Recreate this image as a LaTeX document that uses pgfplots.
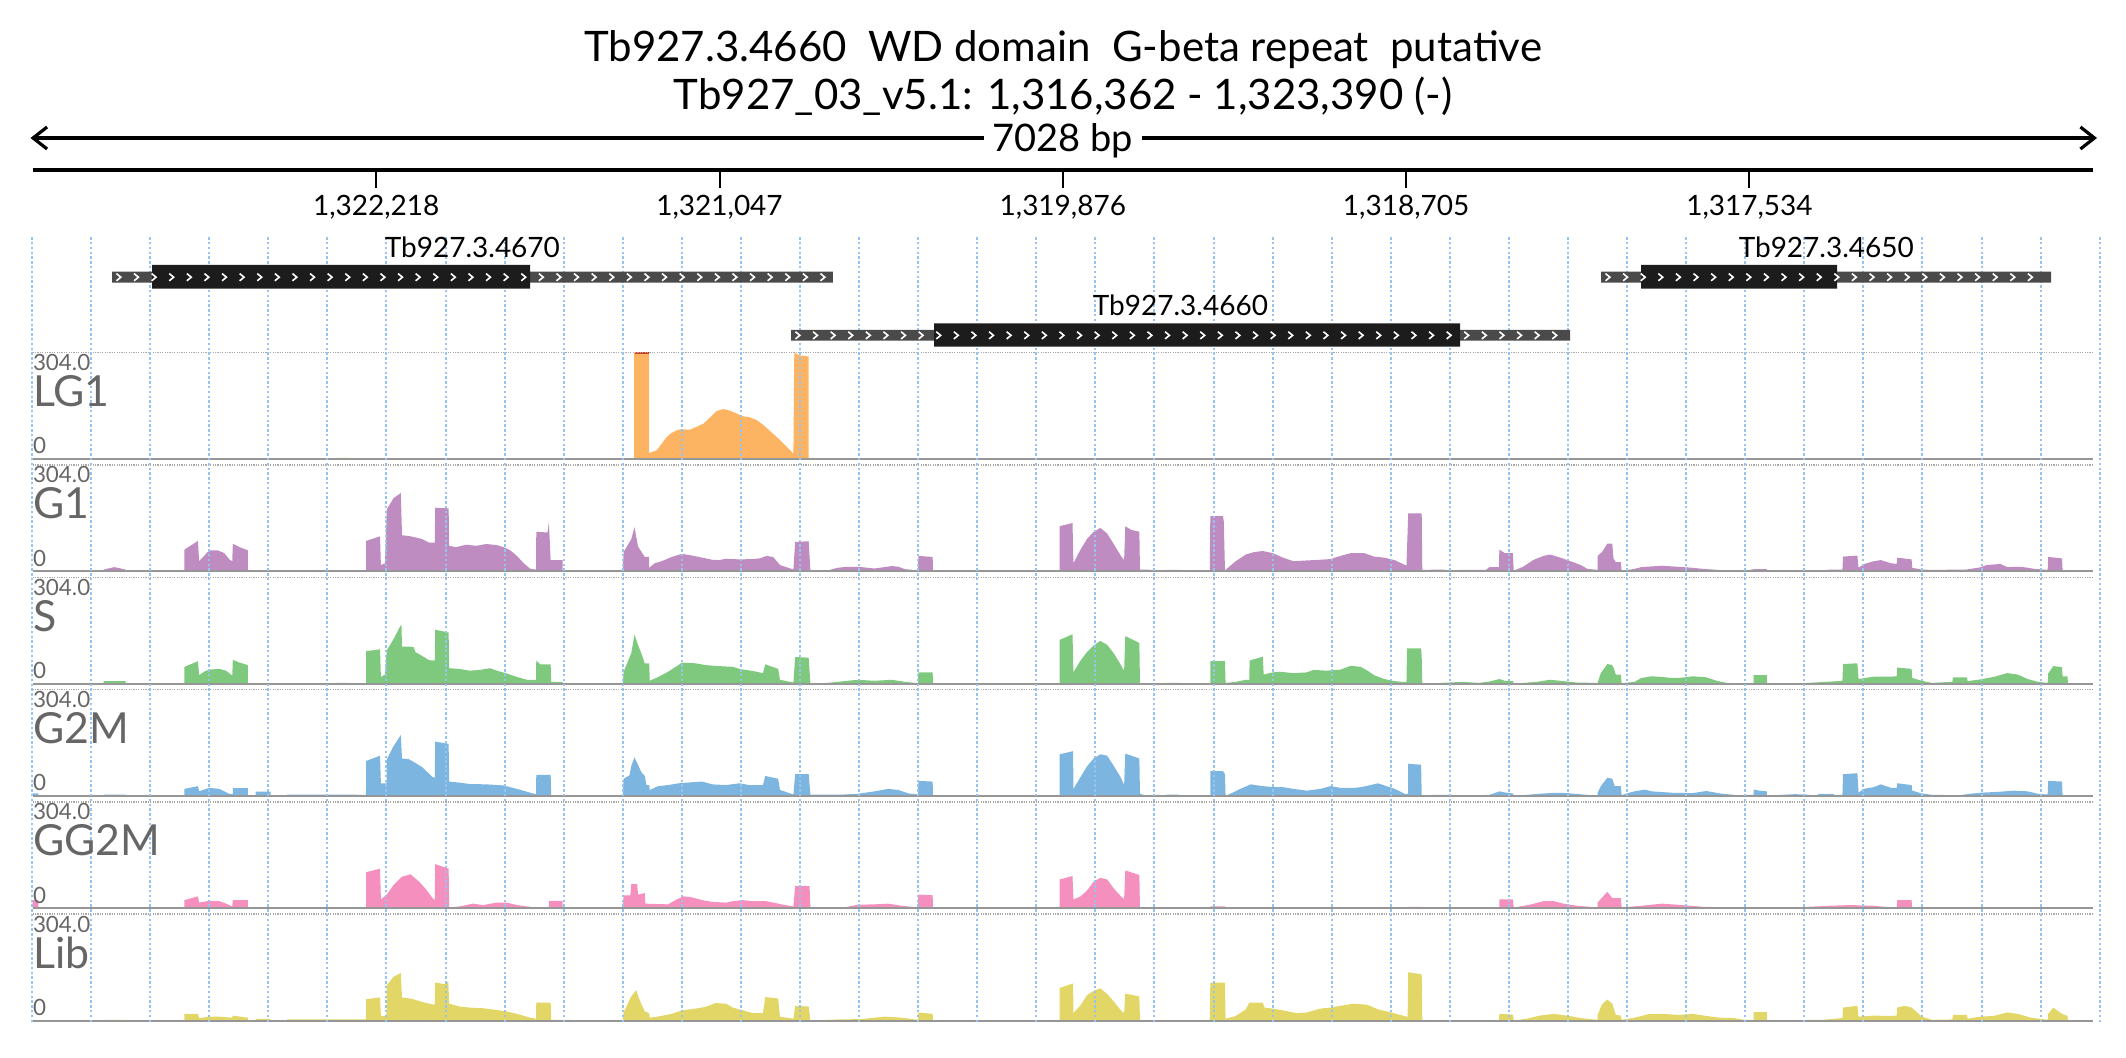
\documentclass[border=0pt]{standalone}
\usepackage{fontspec}
\setmainfont{Lato}
\usepackage{pgfplots}
\pgfplotsset{compat=1.18}
\usetikzlibrary{arrows.meta,decorations.markings}

\definecolor{cLG}{RGB}{253,180,98}
\definecolor{cG1}{RGB}{191,140,193}
\definecolor{cS}{RGB}{127,201,127}
\definecolor{cG2M}{RGB}{124,181,224}
\definecolor{cGG}{RGB}{244,143,190}
\definecolor{cLib}{RGB}{226,215,102}
\definecolor{lblgray}{RGB}{102,102,102}
\definecolor{gridblue}{RGB}{150,196,236}
\definecolor{utr}{RGB}{74,74,74}
\definecolor{cds}{RGB}{28,28,28}
\newcommand\fs[1]{\fontsize{#1}{#1}\selectfont}

\pgfplotsset{
 trackax/.style={scale only axis, width=1030.2pt, height=53.15pt, xmin=0, xmax=7028, ymin=0, ymax=304, anchor=south west, hide axis, clip=false},
 chev/.style={postaction={decorate, decoration={markings, mark=between positions 3.3pt and -3pt step 8.8pt with {\draw[white, line width=0.8pt] (-1.1pt,1.8pt) -- (1.1pt,0pt) -- (-1.1pt,-1.8pt);}}}},
}
\tikzset{
 topline/.style={draw={rgb,255:red,170;green,170;blue,170}, line width=0.8pt, dash pattern=on 0.6pt off 0.6pt},
 baseln/.style={draw={rgb,255:red,150;green,150;blue,150}, line width=1pt},
 lbls/.style={anchor=base west, inner sep=0pt, text=lblgray, font=\fs{11.2}},
 lbll/.style={anchor=base west, inner sep=0pt, text=lblgray, font=\fs{21.4}},
}

\begin{document}
\begin{tikzpicture}[x=1pt,y=1pt]
\useasboundingbox (0,0) rectangle (1063,-529);

% ---------- LG1 ----------
\begin{axis}[trackax, at={(16.3pt,-229.5pt)}]
\addplot[fill=cLG, draw=none] coordinates {(0,0)(1038,0)(1038,3)(1076,3)(1076,0)(2052,0)(2052,304)(2103,304)(2103,17)(2129,25)(2146,44)(2163,63)(2180,75)(2197,82)(2208,85)(2242,84)(2265,92)(2288,101)(2311,119)(2333,137)(2356,143)(2379,138)(2402,130)(2424,122)(2447,119)(2470,111)(2493,97)(2515,80)(2538,63)(2561,44)(2578,30)(2595,15)(2598,304)(2617,296)(2647,293)(2647,0)(7028,0)} \closedcycle;
\addplot[draw={rgb,255:red,210;green,60;blue,30}, line width=1.2pt] coordinates {(2054,302.5)(2101,302.5)};
\draw[topline] (rel axis cs:0,1) -- (rel axis cs:1,1);
\draw[baseln] (rel axis cs:0,0) -- (rel axis cs:1,0);
\end{axis}

% ---------- G1 ----------
\begin{axis}[trackax, at={(16.3pt,-285.65pt)}]
\addplot[fill=cG1, draw=none] coordinates {(0,0)(242,0)(242,5)(279,12)(317,5)(317,0)(518,0)(518,62)(564,87)(568,29)(585,44)(602,60)(631,60)(654,52)(671,34)(681,29)(683,79)(706,69)(734,60)(734,0)(1035,0)(1035,3)(1075,3)(1075,0)(1138,0)(1138,87)(1185,100)(1188,18)(1202,23)(1208,177)(1231,209)(1256,224)(1260,103)(1283,101)(1306,97)(1329,92)(1352,82)(1372,82)(1373,182)(1419,180)(1421,73)(1444,69)(1479,76)(1513,73)(1548,78)(1583,75)(1606,69)(1629,60)(1652,44)(1675,23)(1698,7)(1717,5)(1718,113)(1756,111)(1761,140)(1767,32)(1808,32)(1808,2)(1869,2)(1880,4)(1892,2)(2013,2)(2016,55)(2042,92)(2053,126)(2065,71)(2088,41)(2103,41)(2103,10)(2122,23)(2146,29)(2180,41)(2215,50)(2249,45)(2284,39)(2318,33)(2341,32)(2365,36)(2411,34)(2457,35)(2480,37)(2503,44)(2526,41)(2549,18)(2595,5)(2601,84)(2647,86)(2653,2)(2711,2)(2745,10)(2780,13)(2826,12)(2872,8)(2930,15)(2953,13)(2976,6)(3020,3)(3021,44)(3070,41)(3071,0)(3503,0)(3503,129)(3547,138)(3550,23)(3573,60)(3596,92)(3619,113)(3642,124)(3665,108)(3689,76)(3712,44)(3723,32)(3727,129)(3746,119)(3775,113)(3777,5)(3810,5)(3812,0)(3867,0)(3867,4)(3910,4)(3910,0)(4015,0)(4017,158)(4060,158)(4063,143)(4067,2)(4081,13)(4104,29)(4138,48)(4167,55)(4196,58)(4230,52)(4265,39)(4300,29)(4346,31)(4392,33)(4427,35)(4461,44)(4496,52)(4542,52)(4576,42)(4611,39)(4646,32)(4686,16)(4692,166)(4738,166)(4740,4)(4807,5)(4842,2)(4865,4)(4957,4)(4969,12)(5001,12)(5003,62)(5021,52)(5049,52)(5052,2)(5084,13)(5118,32)(5153,44)(5176,48)(5211,39)(5245,29)(5280,18)(5303,7)(5338,4)(5338,44)(5353,55)(5371,79)(5388,79)(5392,37)(5400,26)(5417,26)(5420,2)(5441,4)(5464,7)(5487,12)(5522,14)(5557,16)(5592,14)(5627,12)(5662,10)(5697,7)(5732,5)(5779,2)(5837,1)(5872,6)(5915,6)(5916,0)(6035,0)(6105,2)(6129,5)(6173,5)(6175,42)(6224,45)(6228,10)(6245,20)(6280,29)(6304,32)(6339,23)(6358,21)(6360,39)(6409,34)(6411,10)(6444,5)(6478,4)(6595,5)(6642,11)(6665,18)(6712,21)(6735,12)(6782,13)(6828,7)(6873,4)(6875,41)(6922,37)(6924,2)(6945,1)(7028,0)} \closedcycle;
\draw[topline] (rel axis cs:0,1) -- (rel axis cs:1,1);
\draw[baseln] (rel axis cs:0,0) -- (rel axis cs:1,0);
\end{axis}

% ---------- S ----------
\begin{axis}[trackax, at={(16.3pt,-341.8pt)}]
\addplot[fill=cS, draw=none] coordinates {(0,0)(242,0)(242,7)(317,7)(317,0)(518,0)(518,48)(564,64)(568,24)(585,34)(602,40)(637,42)(660,37)(681,23)(683,68)(706,60)(734,53)(734,0)(1035,0)(1035,2)(1080,2)(1080,0)(1138,0)(1138,93)(1185,98)(1188,19)(1202,26)(1208,95)(1231,127)(1254,164)(1258,169)(1260,106)(1283,106)(1300,104)(1306,90)(1329,79)(1352,67)(1372,66)(1373,154)(1419,146)(1421,44)(1456,42)(1490,37)(1525,39)(1560,44)(1583,37)(1617,29)(1652,19)(1686,11)(1717,11)(1718,66)(1732,55)(1767,55)(1769,5)(1808,5)(1808,1)(2013,1)(2016,34)(2042,87)(2053,140)(2065,111)(2076,87)(2088,58)(2103,58)(2105,8)(2134,19)(2168,34)(2203,53)(2215,60)(2261,58)(2295,53)(2341,50)(2388,48)(2411,42)(2457,36)(2491,30)(2499,55)(2543,42)(2549,11)(2595,3)(2601,76)(2647,74)(2653,0)(2711,2)(2757,6)(2814,11)(2872,8)(2930,11)(2976,5)(3020,1)(3021,32)(3070,32)(3071,0)(3503,0)(3503,125)(3547,141)(3550,32)(3573,64)(3596,90)(3619,109)(3642,122)(3665,111)(3689,85)(3712,53)(3723,37)(3727,136)(3775,116)(3777,2)(3815,0)(3867,0)(3867,2)(3910,2)(3910,0)(4017,0)(4017,64)(4067,64)(4069,2)(4104,5)(4138,11)(4150,11)(4151,66)(4196,77)(4199,26)(4230,32)(4253,34)(4300,30)(4346,32)(4369,39)(4415,37)(4461,40)(4496,51)(4530,48)(4553,37)(4576,24)(4611,13)(4646,7)(4686,4)(4688,101)(4736,101)(4738,76)(4740,0)(4807,2)(4876,5)(4934,2)(4969,6)(5003,13)(5021,8)(5049,8)(5052,0)(5130,5)(5176,11)(5211,8)(5268,3)(5338,2)(5349,30)(5371,56)(5388,53)(5394,42)(5400,26)(5417,26)(5420,1)(5464,5)(5487,16)(5522,21)(5557,19)(5592,16)(5627,17)(5662,21)(5709,18)(5744,8)(5779,2)(5837,0)(5870,0)(5870,24)(5915,24)(5916,0)(6035,1)(6117,5)(6173,8)(6175,56)(6224,58)(6228,13)(6280,20)(6339,20)(6358,21)(6360,46)(6409,42)(6411,16)(6444,8)(6478,2)(6548,5)(6550,18)(6598,18)(6600,7)(6642,12)(6689,19)(6735,30)(6770,26)(6805,13)(6840,5)(6873,2)(6875,29)(6892,50)(6922,47)(6924,21)(6941,21)(6942,0)(7028,0)} \closedcycle;
\draw[topline] (rel axis cs:0,1) -- (rel axis cs:1,1);
\draw[baseln] (rel axis cs:0,0) -- (rel axis cs:1,0);
\end{axis}

% ---------- G2M ----------
\begin{axis}[trackax, at={(16.3pt,-397.95pt)}]
\addplot[fill=cG2M, draw=none] coordinates {(0,0)(0,7)(20,7)(20,1)(242,1)(242,4)(317,4)(317,0)(518,0)(518,20)(564,28)(568,13)(602,23)(637,20)(671,6)(683,6)(683,22)(734,22)(734,0)(761,0)(761,12)(812,12)(812,1)(868,1)(868,4)(1035,4)(1137,3)(1138,100)(1185,115)(1188,36)(1207,36)(1208,105)(1231,142)(1256,174)(1260,107)(1283,105)(1306,94)(1329,82)(1364,54)(1372,52)(1373,155)(1419,149)(1421,41)(1456,38)(1490,34)(1548,33)(1606,30)(1652,20)(1698,9)(1717,5)(1718,60)(1767,60)(1769,2)(2013,2)(2016,49)(2036,59)(2042,86)(2053,110)(2065,89)(2076,68)(2088,57)(2094,31)(2103,31)(2105,17)(2134,28)(2168,31)(2203,36)(2249,39)(2284,41)(2318,33)(2365,31)(2411,36)(2445,31)(2491,31)(2499,57)(2543,49)(2549,17)(2595,4)(2601,62)(2647,62)(2653,4)(2768,4)(2814,6)(2872,13)(2918,20)(2953,17)(2988,7)(3020,4)(3021,43)(3070,41)(3071,0)(3503,0)(3503,119)(3549,128)(3550,20)(3573,52)(3596,84)(3619,107)(3642,119)(3665,115)(3689,84)(3712,52)(3723,31)(3727,121)(3775,107)(3777,6)(3804,0)(3867,0)(3867,4)(3910,4)(3910,0)(4017,0)(4017,71)(4060,71)(4067,62)(4069,0)(4092,9)(4127,23)(4155,33)(4196,28)(4230,25)(4265,25)(4300,20)(4346,15)(4392,20)(4427,28)(4461,23)(4508,23)(4530,25)(4553,29)(4588,36)(4611,30)(4646,20)(4680,6)(4692,6)(4692,92)(4736,89)(4738,0)(4773,3)(4842,3)(4876,0)(4969,3)(5003,13)(5021,10)(5049,7)(5052,0)(5153,7)(5199,9)(5234,8)(5303,3)(5338,0)(5338,9)(5349,28)(5371,52)(5388,49)(5396,28)(5417,28)(5420,2)(5441,8)(5464,13)(5499,18)(5522,13)(5592,9)(5662,8)(5709,14)(5756,7)(5802,3)(5837,0)(5849,3)(5870,3)(5870,18)(5890,15)(5915,13)(5916,0)(5965,3)(6012,5)(6059,3)(6082,0)(6094,6)(6143,6)(6144,3)(6173,3)(6175,62)(6224,65)(6228,9)(6245,20)(6280,25)(6304,33)(6339,23)(6358,23)(6360,36)(6409,31)(6411,15)(6444,7)(6478,3)(6572,2)(6607,6)(6642,9)(6712,12)(6758,15)(6805,13)(6840,6)(6873,4)(6875,43)(6922,41)(6924,0)(7028,0)} \closedcycle;
\draw[topline] (rel axis cs:0,1) -- (rel axis cs:1,1);
\draw[baseln] (rel axis cs:0,0) -- (rel axis cs:1,0);
\end{axis}

% ---------- GG2M ----------
\begin{axis}[trackax, at={(16.3pt,-454.1pt)}]
\addplot[fill=cGG, draw=none] coordinates {(0,0)(0,23)(20,23)(20,0)(242,0)(242,2)(317,2)(317,0)(518,0)(518,23)(564,34)(568,16)(602,21)(637,20)(660,13)(681,5)(683,23)(734,23)(734,0)(1035,0)(1035,2)(1080,2)(1080,0)(1138,0)(1138,103)(1185,113)(1188,25)(1208,39)(1231,66)(1260,90)(1289,97)(1318,76)(1341,55)(1364,29)(1372,23)(1373,126)(1419,113)(1421,2)(1456,5)(1502,13)(1537,9)(1583,16)(1617,16)(1652,9)(1698,4)(1717,2)(1761,2)(1761,21)(1808,21)(1808,2)(2013,2)(2016,37)(2039,37)(2042,69)(2062,69)(2065,39)(2088,43)(2090,13)(2168,11)(2192,23)(2220,34)(2249,31)(2284,23)(2318,18)(2365,16)(2388,20)(2422,23)(2457,20)(2503,20)(2526,16)(2561,10)(2595,5)(2601,64)(2650,63)(2653,2)(2768,2)(2814,10)(2872,11)(2918,13)(2964,7)(3020,2)(3021,39)(3070,37)(3071,0)(3503,0)(3503,82)(3547,92)(3550,25)(3573,33)(3596,50)(3619,76)(3642,87)(3665,82)(3689,55)(3712,34)(3723,26)(3727,108)(3775,95)(3777,0)(4017,0)(4017,5)(4067,5)(4069,2)(4692,2)(4692,4)(4738,4)(4740,0)(5003,0)(5003,25)(5049,25)(5052,2)(5107,10)(5153,20)(5188,20)(5222,13)(5268,7)(5338,2)(5338,16)(5371,47)(5388,29)(5417,29)(5420,2)(5487,7)(5557,13)(5627,9)(5697,4)(5814,2)(6012,2)(6129,7)(6199,9)(6280,7)(6339,2)(6358,0)(6360,23)(6409,23)(6411,0)(7028,0)} \closedcycle;
\draw[topline] (rel axis cs:0,1) -- (rel axis cs:1,1);
\draw[baseln] (rel axis cs:0,0) -- (rel axis cs:1,0);
\end{axis}

% ---------- Lib ----------
\begin{axis}[trackax, at={(16.3pt,-510.25pt)}]
\addplot[fill=cLib, draw=none] coordinates {(0,0)(242,0)(242,2)(317,2)(317,0)(518,0)(518,18)(564,19)(568,7)(602,11)(637,11)(681,8)(683,14)(734,8)(734,0)(761,0)(761,5)(812,5)(812,0)(868,0)(868,3)(1137,3)(1138,61)(1185,66)(1188,13)(1207,13)(1208,101)(1231,125)(1256,136)(1260,66)(1294,62)(1329,53)(1364,46)(1372,46)(1373,109)(1404,104)(1418,111)(1421,48)(1456,40)(1490,37)(1537,35)(1583,30)(1617,26)(1652,19)(1698,8)(1717,5)(1718,51)(1767,51)(1769,2)(2013,0)(2016,23)(2030,48)(2042,69)(2059,87)(2067,66)(2076,48)(2088,26)(2103,21)(2105,8)(2145,13)(2180,19)(2215,29)(2261,34)(2295,39)(2330,50)(2365,48)(2388,37)(2422,29)(2457,21)(2491,21)(2499,67)(2543,63)(2549,11)(2595,5)(2601,42)(2647,40)(2653,0)(2745,3)(2826,4)(2907,11)(2964,8)(3020,2)(3021,23)(3070,19)(3071,0)(3503,0)(3503,93)(3549,106)(3550,21)(3573,42)(3596,72)(3619,85)(3642,92)(3665,76)(3689,53)(3712,29)(3723,21)(3727,77)(3775,69)(3777,0)(4015,1)(4017,108)(4067,108)(4069,5)(4104,13)(4138,32)(4150,51)(4196,51)(4202,37)(4230,34)(4265,29)(4311,21)(4346,23)(4392,34)(4427,37)(4461,42)(4507,48)(4553,45)(4588,32)(4634,23)(4686,11)(4690,11)(4692,138)(4738,132)(4740,0)(5001,1)(5003,19)(5049,17)(5052,0)(5095,5)(5141,14)(5188,19)(5234,14)(5280,7)(5338,2)(5338,16)(5353,46)(5371,60)(5388,48)(5400,16)(5417,14)(5420,2)(5464,8)(5511,18)(5557,19)(5615,16)(5662,19)(5709,13)(5755,8)(5802,7)(5837,2)(5870,2)(5870,24)(5915,24)(5916,0)(6105,2)(6173,7)(6175,37)(6224,42)(6228,11)(6280,14)(6339,13)(6358,14)(6360,37)(6385,42)(6409,37)(6444,11)(6478,2)(6548,3)(6550,16)(6598,16)(6600,5)(6642,11)(6689,13)(6735,23)(6770,19)(6817,8)(6873,2)(6875,19)(6892,37)(6922,19)(6941,13)(6942,0)(7028,0)} \closedcycle;
\draw[topline] (rel axis cs:0,1) -- (rel axis cs:1,1);
\draw[baseln] (rel axis cs:0,0) -- (rel axis cs:1,0);
\end{axis}

% ---------- vertical grid ----------
\begin{axis}[scale only axis, width=1044.86pt, height=392.5pt, at={(8.97pt,-511pt)}, anchor=south west,
  xmin=-50, xmax=7078, ymin=0, ymax=1, axis line style={draw=none}, major tick length=0pt,
  xtick={-2,199.5,...,7060}, xticklabel=\empty, ytick=\empty, xmajorgrids,
  grid style={gridblue, line width=1pt, dash pattern=on 1.2pt off 1.2pt}]
\end{axis}

% ---------- genes ----------
\begin{axis}[scale only axis, width=1030.2pt, height=61.35pt, at={(16.3pt,-176.35pt)}, anchor=south west,
  xmin=0, xmax=7028, ymin=-352.7, ymax=-230, hide axis, clip=false]
% Tb927.3.4670
\addplot[fill=utr, draw=none] coordinates {(271,-271.7)(2730,-271.7)(2730,-282.7)(271,-282.7)(271,-271.7)};
\addplot[fill=cds, draw=none] coordinates {(408,-265)(1697,-265)(1697,-288.7)(408,-288.7)(408,-265)};
\addplot[draw=none, chev] coordinates {(271,-277.2)(2730,-277.2)};
% Tb927.3.4660
\addplot[fill=utr, draw=none] coordinates {(2587,-330)(5244,-330)(5244,-340.7)(2587,-340.7)(2587,-330)};
\addplot[fill=cds, draw=none] coordinates {(3075,-323.3)(4869,-323.3)(4869,-346.7)(3075,-346.7)(3075,-323.3)};
\addplot[draw=none, chev] coordinates {(2587,-335.35)(5244,-335.35)};
% Tb927.3.4650
\addplot[fill=utr, draw=none] coordinates {(5350,-271.7)(6885,-271.7)(6885,-282.7)(5350,-282.7)(5350,-271.7)};
\addplot[fill=cds, draw=none] coordinates {(5486,-265)(6155,-265)(6155,-288.7)(5486,-288.7)(5486,-265)};
\addplot[draw=none, chev] coordinates {(5350,-277.2)(6885,-277.2)};
\node[anchor=base, font=\fs{14}] at (axis cs:1500,-258) {Tb927.3.4670};
\node[anchor=base, font=\fs{14}] at (axis cs:3915,-316) {Tb927.3.4660};
\node[anchor=base, font=\fs{14}] at (axis cs:6118,-258) {Tb927.3.4650};
\end{axis}

% ---------- ruler ----------
\begin{axis}[scale only axis, width=1030.2pt, height=10pt, at={(16.3pt,-85pt)}, anchor=south west,
  xmin=0, xmax=7028, ymin=0, ymax=1, axis x line*=bottom, axis y line=none,
  xtick={1172,2343,3514,4685,5856},
  xticklabels={{1,322,218},{1,321,047},{1,319,876},{1,318,705},{1,317,534}},
  tick align=outside, major tick length=9pt, xtick style={line width=1pt, black},
  axis line style={line width=1.6pt, black, -},
  xticklabel style={font=\fs{14}, inner sep=0pt, anchor=north, yshift=-3.5pt}]
\addplot[draw=none] coordinates {(0,0)};
\end{axis}

% ---------- titles and span ----------
\node[anchor=base, font=\fs{21}] at (531.5,-31) {Tb927.3.4660\ \ WD domain\ \ G-beta repeat\ \ putative};
\node[anchor=base, font=\fs{21}] at (531.5,-55) {Tb927\_03\_v5.1: 1,316,362 - 1,323,390 (-)};
\draw[{Straight Barb[length=7pt,width=11pt]}-{Straight Barb[length=7pt,width=11pt]}, line width=1.6pt] (15.25,-69) -- (1048.5,-69);
\node[anchor=base, fill=white, inner xsep=4.5pt, inner ysep=2pt, font=\fs{19}] at (531.5,-76) {7028 bp};

% ---------- track labels ----------
\node[lbls] at (16.3,-185.35) {304.0};
\node[lbll] at (16.3,-203.35) {LG1};
\node[lbls] at (16.3,-227.0) {0};
\node[lbls] at (16.3,-241.5) {304.0};
\node[lbll] at (16.3,-259.5) {G1};
\node[lbls] at (16.3,-283.15) {0};
\node[lbls] at (16.3,-297.65) {304.0};
\node[lbll] at (16.3,-315.65) {S};
\node[lbls] at (16.3,-339.3) {0};
\node[lbls] at (16.3,-353.8) {304.0};
\node[lbll] at (16.3,-371.8) {G2M};
\node[lbls] at (16.3,-395.45) {0};
\node[lbls] at (16.3,-409.95) {304.0};
\node[lbll] at (16.3,-427.95) {GG2M};
\node[lbls] at (16.3,-451.6) {0};
\node[lbls] at (16.3,-466.1) {304.0};
\node[lbll] at (16.3,-484.1) {Lib};
\node[lbls] at (16.3,-507.75) {0};
\end{tikzpicture}
\end{document}
